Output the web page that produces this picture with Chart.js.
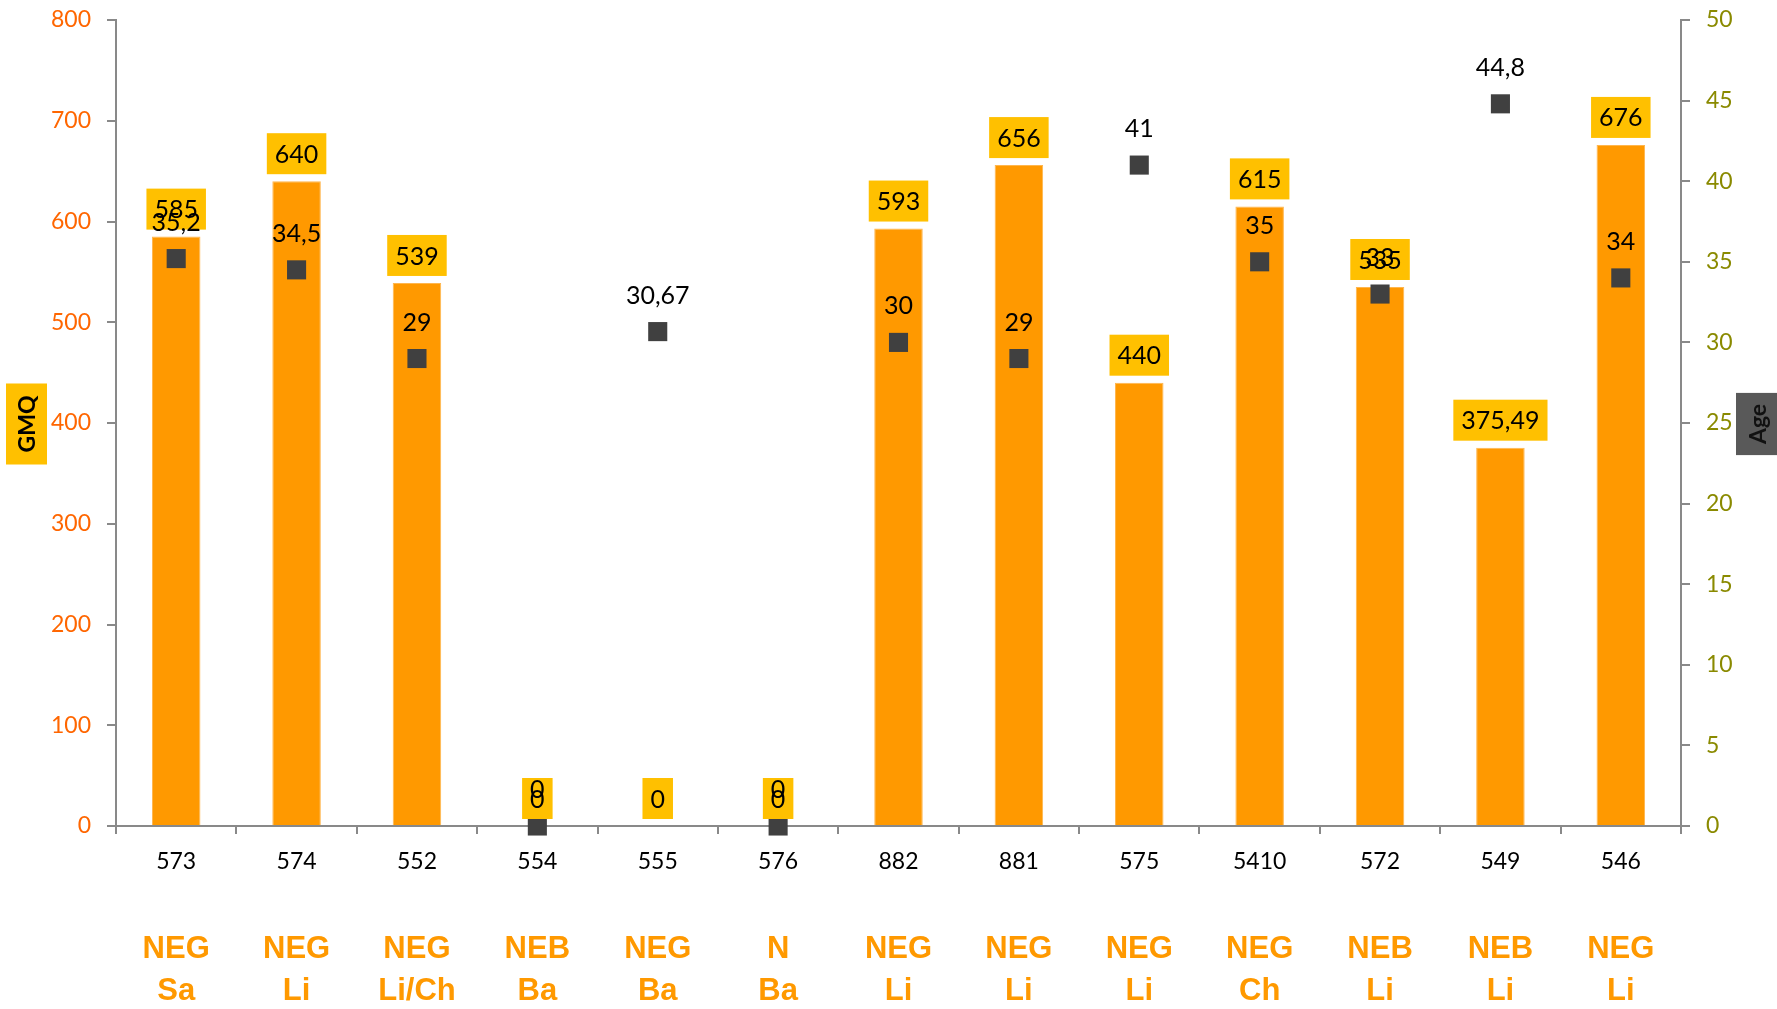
<!DOCTYPE html>
<html><head><meta charset="utf-8">
<script src="https://cdn.jsdelivr.net/npm/chart.js@4.4.1/dist/chart.umd.min.js"></script>
<style>html,body{margin:0;padding:0;background:#fff;overflow:hidden}#wrap{width:1777px;height:1009px;position:relative}</style>
</head><body><div id="wrap"><canvas id="c" width="1777" height="1009"></canvas></div>
<script>
const codes = ['573','574','552','554','555','576','882','881','575','5410','572','549','546'];
const groups = [['NEG','Sa'],['NEG','Li'],['NEG','Li/Ch'],['NEB','Ba'],['NEG','Ba'],['N','Ba'],['NEG','Li'],['NEG','Li'],['NEG','Li'],['NEG','Ch'],['NEB','Li'],['NEB','Li'],['NEG','Li']];
const gmq = [585,640,539,0,0,0,593,656,440,615,535,375.49,676];
const age = [35.2,34.5,29,0,30.67,0,30,29,41,35,33,44.8,34];
const leftTitle = 'GMQ';
const rightTitle = 'Age';

const fmt = v => String(v).replace('.', ',');
const AXIS = '#898989';

const labelPlugin = {
  id: 'valueLabels',
  afterDatasetsDraw(chart) {
    const ctx = chart.ctx;
    const barMeta = chart.getDatasetMeta(0);
    const ptMeta = chart.getDatasetMeta(1);
    ctx.save();
    ctx.font = '25px Lato';
    ctx.textAlign = 'center';
    ctx.textBaseline = 'middle';
    barMeta.data.forEach((el, i) => {
      const txt = fmt(gmq[i]);
      const w = ctx.measureText(txt).width + 16;
      const h = 41;
      const yb = el.y - 7;
      ctx.fillStyle = '#FFC000';
      ctx.fillRect(el.x - w / 2, yb - h, w, h);
      ctx.fillStyle = '#000';
      ctx.fillText(txt, el.x, yb - h / 2 + 1);
    });
    ptMeta.data.forEach((el, i) => {
      ctx.fillStyle = '#000';
      ctx.fillText(fmt(age[i]), el.x, el.y - 36);
    });
    ctx.restore();
  },
  afterDraw(chart) {
    const ctx = chart.ctx;
    const a = chart.chartArea;
    const cy = (a.top + a.bottom) / 2 + 1;
    ctx.save();
    ctx.font = 'bold 23px Lato';
    ctx.textAlign = 'center';
    ctx.textBaseline = 'middle';
    let tw = ctx.measureText(leftTitle).width + 24;
    ctx.fillStyle = '#FFC000';
    ctx.fillRect(6, cy - tw / 2, 41, tw);
    ctx.save();
    ctx.translate(26.5, cy);
    ctx.rotate(-Math.PI / 2);
    ctx.fillStyle = '#000';
    ctx.fillText(leftTitle, 0, 1);
    ctx.restore();
    tw = ctx.measureText(rightTitle).width + 22;
    ctx.fillStyle = '#595959';
    ctx.fillRect(1736, cy - tw / 2, 44, tw);
    ctx.save();
    ctx.translate(1758, cy);
    ctx.rotate(-Math.PI / 2);
    ctx.fillStyle = '#111';
    ctx.fillText(rightTitle, 0, 1);
    ctx.restore();
    ctx.restore();
  }
};

new Chart(document.getElementById('c'), {
  type: 'bar',
  data: {
    labels: codes,
    datasets: [
      {
        type: 'bar',
        label: 'GMQ',
        data: gmq,
        yAxisID: 'y',
        xAxisID: 'x',
        backgroundColor: '#FF9900',
        borderColor: '#FFB64D',
        borderWidth: 1,
        categoryPercentage: 1,
        barPercentage: 0.403,
        order: 1
      },
      {
        type: 'line',
        label: 'Age',
        data: age,
        yAxisID: 'y1',
        xAxisID: 'x',
        showLine: false,
        pointStyle: 'rect',
        pointRadius: 13.5,
        pointBackgroundColor: '#404040',
        pointBorderColor: '#404040',
        pointBorderWidth: 0,
        clip: false,
        order: 0
      }
    ]
  },
  options: {
    responsive: false,
    animation: false,
    devicePixelRatio: 1,
    layout: { padding: { top: 20, left: 0, right: 0, bottom: 0 } },
    plugins: { legend: { display: false }, tooltip: { enabled: false } },
    scales: {
      x: {
        type: 'category',
        position: 'bottom',
        weight: 0,
        offset: true,
        grid: { offset: true, drawOnChartArea: false, tickLength: 8, color: AXIS, lineWidth: 2 },
        border: { color: AXIS, width: 2 },
        ticks: { color: '#000', font: { family: 'Lato', size: 23 }, padding: 14, autoSkip: false, maxRotation: 0 },
        afterFit: s => { s.height = 69; s.paddingLeft = 0; s.paddingRight = 0; }
      },
      x2: {
        type: 'category',
        position: 'bottom',
        weight: 1,
        offset: true,
        labels: groups,
        grid: { display: false, drawTicks: false },
        border: { display: false },
        ticks: { color: '#FF9900', font: { family: 'Liberation Sans', size: 31, weight: 'bold', lineHeight: '42px' }, padding: 33, autoSkip: false, maxRotation: 0 },
        afterFit: s => { s.height = 114; s.paddingLeft = 0; s.paddingRight = 0; }
      },
      y: {
        position: 'left',
        min: 0, max: 800,
        ticks: { stepSize: 100, color: '#FF6600', font: { family: 'Lato', size: 23 }, padding: 16 },
        grid: { drawOnChartArea: false, tickLength: 9, color: AXIS, lineWidth: 2 },
        border: { color: AXIS, width: 2 },
        afterFit: s => { s.width = 116; s.paddingTop = 0; s.paddingBottom = 0; }
      },
      y1: {
        position: 'right',
        min: 0, max: 50,
        ticks: { stepSize: 5, color: '#8A8A00', font: { family: 'Lato', size: 23 }, padding: 16 },
        grid: { drawOnChartArea: false, tickLength: 9, color: AXIS, lineWidth: 2 },
        border: { color: AXIS, width: 2 },
        afterFit: s => { s.width = 96; s.paddingTop = 0; s.paddingBottom = 0; }
      }
    }
  },
  plugins: [labelPlugin]
});
</script>
</body></html>
